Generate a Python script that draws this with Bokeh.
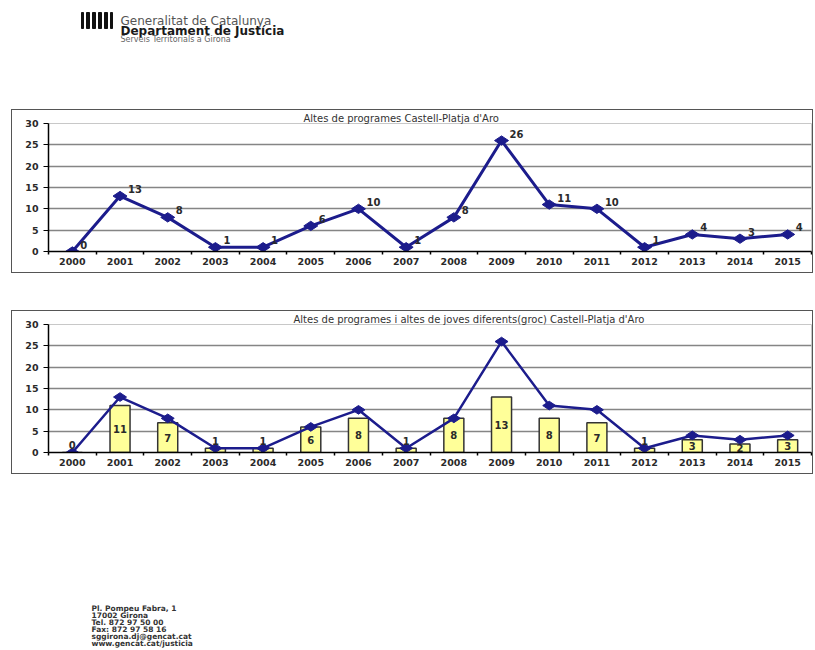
import numpy as np
from bokeh.plotting import figure
from bokeh.models import Range1d, FixedTicker, PrintfTickFormatter, Spacer, InlineStyleSheet
from bokeh.layouts import column, row
from bokeh.embed import file_html
from bokeh.resources import INLINE
from bokeh.core.properties import value

# ---------------- data ----------------
years = [2000, 2001, 2002, 2003, 2004, 2005, 2006, 2007,
         2008, 2009, 2010, 2011, 2012, 2013, 2014, 2015]
altes = [0, 13, 8, 1, 1, 6, 10, 1, 8, 26, 11, 10, 1, 4, 3, 4]
joves = [0, 11, 7, 1, 1, 6, 8, 1, 8, 13, 8, 7, 1, 3, 2, 3]
y_ticks = [0, 5, 10, 15, 20, 25, 30]

title1 = "Altes de programes Castell-Platja d'Aro"
title2 = "Altes de programes  i altes de joves diferents(groc) Castell-Platja d'Aro"

header_lines = ["Generalitat de Catalunya", "Departament de Justícia",
                "Serveis Territorials a Girona"]
footer_lines = ["Pl. Pompeu Fabra, 1", "17002 Girona", "Tel. 872 97 50 00",
                "Fax: 872 97 58 16", "sggirona.dj@gencat.cat", "www.gencat.cat/justicia"]

# ---------------- layout / style ----------------
LEFT = 12         # left indent of every block
W = 800           # canvas width of every block
MBL, MBR = 36, 1  # frame borders (same for all blocks so frames line up)
FX0, FX1 = LEFT + MBL, LEFT + W - MBR
CH = 162
FONT = "DejaVu Sans"
NAVY = "#1c1c8c"
YELLOW = "#FFFF99"
TXT = "#2a2a2a"

box_css = InlineStyleSheet(css=":host { outline: 1.5px solid #555555 !important; outline-offset: 0px; }")


def indent(fig, h):
    return row(Spacer(width=LEFT, height=h), fig)


def blank(height):
    f = figure(width=W, height=height, x_range=Range1d(FX0, FX1), y_range=Range1d(height, 0),
               output_backend="svg", toolbar_location=None,
               min_border_left=MBL, min_border_right=MBR, min_border_top=0, min_border_bottom=0,
               x_axis_type=None, y_axis_type=None, outline_line_color=None,
               background_fill_color="white", border_fill_color="white")
    f.grid.visible = False
    return f


def chart(title_text, title_offset):
    p = figure(width=W, height=CH, title=title_text, output_backend="svg", toolbar_location=None,
               x_range=Range1d(years[0] - 0.5, years[-1] + 0.5), y_range=Range1d(0, 30),
               min_border_left=MBL, min_border_right=MBR, min_border_top=11, min_border_bottom=21,
               background_fill_color="white", border_fill_color="white",
               outline_line_color="#c8c8c8", outline_line_width=1,
               styles={"outline": "1.5px solid #555555"}, stylesheets=[box_css])
    p.title.align = "left"
    p.title.offset = title_offset
    p.title.standoff = 0
    p.title.text_font = FONT
    p.title.text_font_size = "10px"
    p.title.text_font_style = "normal"
    p.title.text_color = "#333333"

    xa = p.xaxis[0]
    xa.ticker = FixedTicker(ticks=years,
                            minor_ticks=[y - 0.5 for y in years] + [years[-1] + 0.5])
    xa.formatter = PrintfTickFormatter(format="%d")
    xa.major_tick_line_color = None
    xa.major_tick_out = 0
    xa.major_tick_in = 0
    xa.minor_tick_line_color = "black"
    xa.minor_tick_line_width = 1.5
    xa.minor_tick_out = 3
    xa.minor_tick_in = 0
    xa.axis_line_color = "black"
    xa.axis_line_width = 1.5
    xa.major_label_standoff = 3
    xa.major_label_text_font = FONT
    xa.major_label_text_font_size = "9.5px"
    xa.major_label_text_font_style = "bold"
    xa.major_label_text_color = TXT

    ya = p.yaxis[0]
    ya.ticker = FixedTicker(ticks=y_ticks)
    ya.major_tick_out = 5
    ya.major_tick_in = 0
    ya.major_tick_line_color = "black"
    ya.minor_tick_line_color = None
    ya.axis_line_color = "black"
    ya.axis_line_width = 1.5
    ya.major_label_standoff = 5
    ya.major_label_text_font = FONT
    ya.major_label_text_font_size = "9.5px"
    ya.major_label_text_font_style = "bold"
    ya.major_label_text_color = TXT

    p.xgrid.grid_line_color = None
    p.ygrid.grid_line_color = "#858585"
    p.ygrid.grid_line_width = 1.5
    return p


# ---------------- header (data x = page x, data y = page y) ----------------
HH = 110
header = blank(HH)
logo_l = [81, 86, 92, 98, 104, 110]
logo_r = [83, 89, 95, 101, 107, 112]
header.quad(left=logo_l, right=logo_r, top=[12] * 6, bottom=[28] * 6, color="#111111")
header.text(x=[120], y=[20], text=[header_lines[0]], text_font=value(FONT),
            text_font_size="12px", text_color="#555555", text_baseline="alphabetic")
header.text(x=[120], y=[30.5], text=[header_lines[1]], text_font=value(FONT),
            text_font_size="12px", text_font_style="bold", text_color="#1a1a1a",
            text_baseline="alphabetic")
header.text(x=[120], y=[39], text=[header_lines[2]], text_font=value(FONT),
            text_font_size="8px", text_color="#666666", text_baseline="alphabetic")

# ---------------- chart 1 ----------------
p1 = chart(title1, 255)
p1.line(years, altes, color=NAVY, line_width=3)
p1.scatter(years, altes, marker="diamond", size=14, angle=np.pi / 2, color=NAVY)
p1.text(years, altes, text=[str(v) for v in altes], x_offset=8, y_offset=-3,
        text_font=value(FONT), text_font_style="bold", text_font_size="10px",
        text_color=TXT, text_baseline="bottom", text_align="left")

# ---------------- chart 2 ----------------
p2 = chart(title2, 245)
p2.vbar(x=years, top=joves, width=0.42, fill_color=YELLOW, line_color="#333333", line_width=1.5)
p2.line(years, altes, color=NAVY, line_width=2.5)
p2.scatter(years, altes, marker="diamond", size=13, angle=np.pi / 2, color=NAVY)
jv = np.array(joves, dtype=float)
label_y = np.where(jv >= 2, jv / 2, jv + 1.8)
p2.text(years, label_y, text=[str(v) for v in joves],
        text_font=value(FONT), text_font_style="bold", text_font_size="10px",
        text_color=TXT, text_baseline="middle", text_align="center")

# ---------------- footer (data y = page y - 593) ----------------
FH = 57
footer = blank(FH)
fy = [15 + 7 * i for i in range(len(footer_lines))]
footer.text(x=[91] * len(footer_lines), y=fy, text=footer_lines, text_font=value(FONT),
            text_font_size="7.5px", text_font_style="bold", text_color="#333333",
            text_baseline="middle")

layout = column(
    indent(header, HH),
    indent(p1, CH),
    Spacer(width=LEFT + W, height=39),
    indent(p2, CH),
    Spacer(width=LEFT + W, height=120),
    indent(footer, FH),
)
open("out.html", "w").write(file_html(layout, INLINE))
